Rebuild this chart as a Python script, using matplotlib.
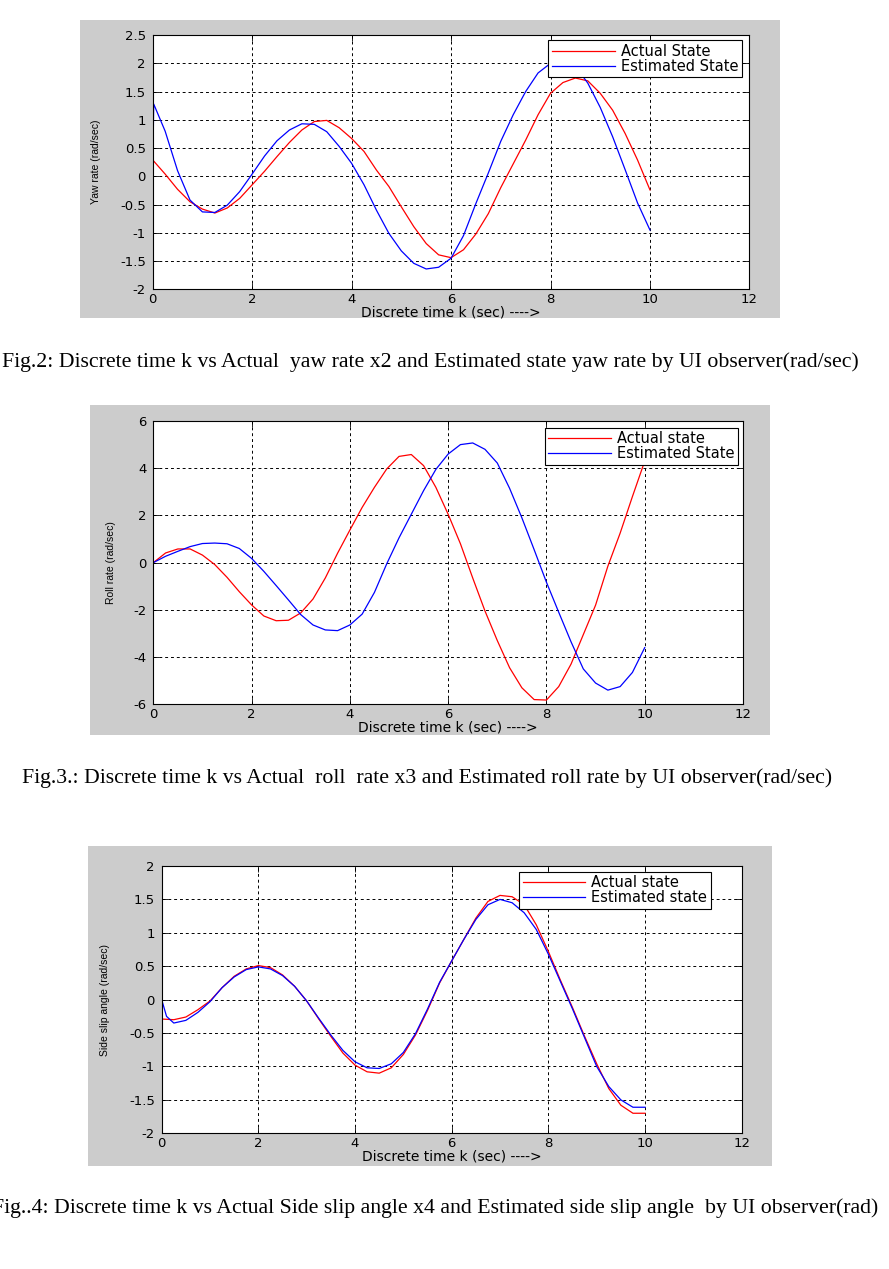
import numpy as np
import matplotlib
matplotlib.use('Agg')
import matplotlib.pyplot as plt
from matplotlib.patches import Rectangle
from matplotlib.ticker import FuncFormatter
from matplotlib import font_manager

plt.rcParams['axes.unicode_minus'] = False
plt.rcParams['font.family'] = 'DejaVu Sans'

W, H = 889, 1269

# sample instants (sec)
k = np.arange(0, 10.01, 0.25)

# Fig.2 yaw rate
yaw_actual = [0.29, 0.04, -0.23, -0.45, -0.58, -0.65, -0.56, -0.39, -0.15, 0.09,
              0.35, 0.60, 0.82, 0.97, 0.99, 0.86, 0.67, 0.44, 0.11, -0.18,
              -0.54, -0.89, -1.19, -1.39, -1.44, -1.30, -1.02, -0.66, -0.20, 0.22,
              0.64, 1.09, 1.47, 1.66, 1.74, 1.69, 1.47, 1.17, 0.76, 0.29, -0.24]
yaw_est_k = [0, 0.02] + list(k[1:])
yaw_est = [0, 1.28, 0.80, 0.10, -0.42, -0.63, -0.64, -0.51, -0.27, 0.04,
           0.36, 0.63, 0.82, 0.93, 0.92, 0.79, 0.53, 0.23, -0.15, -0.60,
           -1.01, -1.32, -1.54, -1.64, -1.61, -1.45, -1.05, -0.48, 0.06, 0.62,
           1.09, 1.50, 1.83, 2.00, 2.04, 1.95, 1.65, 1.22, 0.70, 0.12, -0.47, -0.95]

# Fig.3 roll rate
roll_actual = [0, 0.41, 0.58, 0.58, 0.32, -0.08, -0.62, -1.23, -1.79, -2.26,
               -2.46, -2.44, -2.13, -1.54, -0.65, 0.40, 1.38, 2.34, 3.19, 3.97,
               4.50, 4.58, 4.11, 3.19, 2.05, 0.80, -0.65, -2.05, -3.30, -4.45,
               -5.30, -5.80, -5.82, -5.25, -4.30, -3.05, -1.80, -0.15, 1.25, 2.80, 4.30]
roll_est = [0, 0.27, 0.48, 0.68, 0.81, 0.83, 0.80, 0.60, 0.18, -0.37,
            -0.97, -1.58, -2.20, -2.64, -2.85, -2.88, -2.64, -2.18, -1.26, -0.05,
            1.05, 2.05, 3.05, 3.95, 4.60, 5.00, 5.07, 4.80, 4.22, 3.15,
            1.90, 0.55, -0.83, -2.10, -3.35, -4.50, -5.10, -5.40, -5.25, -4.65, -3.60]

# Fig.4 side slip angle
slip_actual = [-0.29, -0.30, -0.26, -0.15, -0.02, 0.18, 0.35, 0.46, 0.51, 0.48,
               0.37, 0.20, -0.02, -0.29, -0.55, -0.80, -0.98, -1.08, -1.10, -1.02,
               -0.82, -0.53, -0.16, 0.25, 0.58, 0.90, 1.22, 1.47, 1.56, 1.54,
               1.42, 1.12, 0.72, 0.29, -0.12, -0.55, -0.96, -1.33, -1.58, -1.70, -1.70]
slip_est_k = [0, 0.1] + list(k[1:])
slip_est = [0, -0.25, -0.35, -0.31, -0.19, -0.03, 0.18, 0.34, 0.45, 0.49,
            0.46, 0.36, 0.20, -0.02, -0.28, -0.53, -0.76, -0.93, -1.02, -1.03,
            -0.96, -0.79, -0.51, -0.14, 0.26, 0.58, 0.90, 1.20, 1.42, 1.50,
            1.45, 1.30, 1.05, 0.68, 0.27, -0.14, -0.57, -1.00, -1.30, -1.50, -1.61, -1.61]

captions = ["Fig.2: Discrete time k vs Actual  yaw rate x2 and Estimated state yaw rate by UI observer(rad/sec)",
            "Fig.3.: Discrete time k vs Actual  roll  rate x3 and Estimated roll rate by UI observer(rad/sec)",
            "Fig..4: Discrete time k vs Actual Side slip angle x4 and Estimated side slip angle  by UI observer(rad)"]

names = {f.name for f in font_manager.fontManager.ttflist}
narrow = 'Liberation Sans Narrow' if 'Liberation Sans Narrow' in names else 'Liberation Sans'

fig = plt.figure(figsize=(W / 100, H / 100), dpi=100)


def panel_bg(l, t, r, b):
    fig.patches.append(Rectangle((l / W, 1 - b / H), (r - l) / W, (b - t) / H,
                                 transform=fig.transFigure, facecolor='#cccccc',
                                 edgecolor='none', zorder=-5))


def make_axes(l, t, r, b):
    return fig.add_axes([l / W, 1 - b / H, (r - l) / W, (b - t) / H])


def style(ax, box, ylim, ystep, ylabel, ylab_px, leg_labels, leg_px):
    l, t, r, b = box
    ax.set_xlim(0, 12)
    ax.set_ylim(*ylim)
    ax.set_xticks(np.arange(0, 12.1, 2))
    ax.set_yticks(np.arange(ylim[0], ylim[1] + 1e-6, ystep))
    fmt = FuncFormatter(lambda v, p: '%g' % round(v, 3))
    ax.xaxis.set_major_formatter(fmt)
    ax.yaxis.set_major_formatter(fmt)
    ax.tick_params(direction='in', length=4, width=0.6, labelsize=9.5,
                   top=True, right=True, pad=3)
    ax.tick_params(axis='y', pad=5)
    ax.grid(True, color='black', linestyle=(0, (3, 3)), linewidth=0.7)
    ax.set_axisbelow(True)
    for s in ax.spines.values():
        s.set_linewidth(0.8)
    ax.set_xlabel('Discrete time k (sec) ---->', fontsize=10, labelpad=-1)
    ax.set_ylabel(ylabel, fontsize=7.5, family=narrow)
    ax.yaxis.set_label_coords((ylab_px + 5 - l) / (r - l), 0.5)
    lx, ly = leg_px
    leg = ax.legend(leg_labels, loc='upper right',
                    bbox_to_anchor=((lx - l) / (r - l), 1 - (ly - t) / (b - t)),
                    borderaxespad=0, fancybox=False, edgecolor='black', framealpha=1,
                    fontsize=10.5, handlelength=4.3, handletextpad=0.4,
                    borderpad=0.25, labelspacing=0.0)
    leg.get_frame().set_linewidth(0.8)


# Fig.2
panel_bg(80, 20, 780, 318)
box1 = (152.7, 35.1, 749.4, 289.3)
ax1 = make_axes(*box1)
ax1.plot(k, yaw_actual, color='red', lw=0.9)
ax1.plot(yaw_est_k, yaw_est, color='blue', lw=0.9)
style(ax1, box1, (-2, 2.5), 0.5, 'Yaw rate (rad/sec)', 95.6,
      ['Actual State', 'Estimated State'], (741.7, 40))

# Fig.3
panel_bg(90, 405, 770, 735)
box2 = (153.3, 421.0, 743.0, 704.3)
ax2 = make_axes(*box2)
ax2.plot(k, roll_actual, color='red', lw=0.9)
ax2.plot(k, roll_est, color='blue', lw=0.9)
style(ax2, box2, (-6, 6), 2, 'Roll rate (rad/sec)', 111,
      ['Actual state', 'Estimated State'], (738, 427.7))

# Fig.4
panel_bg(88, 846, 772, 1166)
box3 = (161.7, 866.0, 741.7, 1133.3)
ax3 = make_axes(*box3)
ax3.plot(k, slip_actual, color='red', lw=0.9)
ax3.plot(slip_est_k, slip_est, color='blue', lw=0.9)
style(ax3, box3, (-2, 2), 0.5, 'Side slip angle (rad/sec)', 105,
      ['Actual state', 'Estimated state'], (710.7, 871.7))

# captions under each panel (the last one runs off the left edge, as in the page scan)
cap_size = 15.7
fig.text(430 / W, 1 - 362 / H, captions[0], ha='center', va='center',
         family='Liberation Serif', fontsize=cap_size)
fig.text(427.5 / W, 1 - 778 / H, captions[1], ha='center', va='center',
         family='Liberation Serif', fontsize=cap_size)
fig.text(878 / W, 1 - 1208 / H, captions[2], ha='right', va='center',
         family='Liberation Serif', fontsize=cap_size)

fig.savefig('out.png', dpi=100)
